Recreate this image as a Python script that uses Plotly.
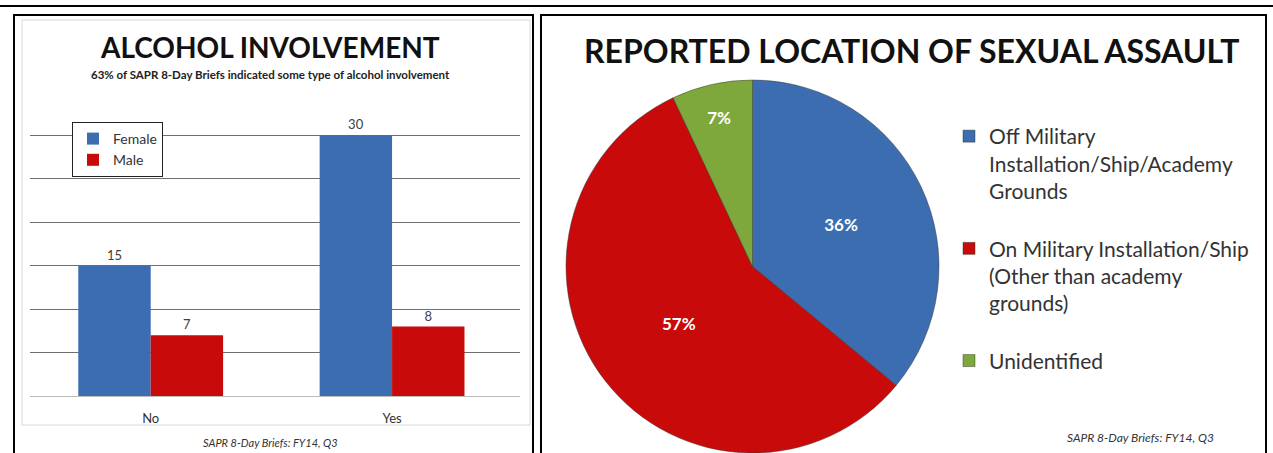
import plotly.graph_objects as go

W, H = 1273, 453

def px(x):
    return x / W

def py(y):
    return 1 - y / H

# bar chart data
answers = ["No", "Yes"]
female = [15, 30]
male = [7, 8]

# pie data
locations = [
    "Off Military<br>Installation/Ship/Academy<br>Grounds<br> ",
    "On Military Installation/Ship<br>(Other than academy<br>grounds)<br> ",
    "Unidentified",
]
location_pct = [36, 57, 7]

FONT = "Lato, 'Open Sans', sans-serif"
BLUE = "#3b6db0"
RED = "#c80a0a"
GREEN = "#7ea83c"

fig = go.Figure()

fig.add_trace(go.Bar(
    x=answers, y=female, name="Female",
    marker=dict(color=BLUE, line=dict(width=0)),
    text=female, textposition="outside",
    textfont=dict(size=13, color="#404040"),
    cliponaxis=False, legend="legend",
))
fig.add_trace(go.Bar(
    x=answers, y=male, name="Male",
    marker=dict(color=RED, line=dict(width=0)),
    text=male, textposition="outside",
    textfont=dict(size=13, color="#404040"),
    cliponaxis=False, legend="legend",
))

fig.add_trace(go.Pie(
    labels=locations, values=location_pct,
    sort=False, direction="clockwise", rotation=0,
    marker=dict(colors=[BLUE, RED, GREEN],
                line=dict(color="rgba(50,50,50,0.45)", width=1)),
    texttemplate="<b>%{value}%</b>",
    textposition="inside", insidetextorientation="horizontal",
    textfont=dict(size=17, color="white", family=FONT),
    domain=dict(x=[px(565), px(940)], y=[0, py(80)]),
    legend="legend2",
))

fig.update_layout(
    width=W, height=H,
    margin=dict(l=0, r=0, t=0, b=0),
    paper_bgcolor="white", plot_bgcolor="white",
    font=dict(family=FONT, color="#333"),
    barmode="group", bargap=0.4, bargroupgap=0,
    xaxis=dict(domain=[px(30), px(520)], range=[-0.5, 1.53],
               showline=True, linecolor="#bbbbbb", linewidth=1,
               ticks="", tickfont=dict(size=13, color="#333"),
               ticklabelstandoff=10, showgrid=False),
    yaxis=dict(domain=[py(396), py(91.5)], range=[0, 35.05], dtick=5,
               showticklabels=False, showgrid=True,
               gridcolor="#6f6f6f", gridwidth=1, zeroline=False),
    legend=dict(x=px(72), y=py(122), xanchor="left", yanchor="top",
                bgcolor="white", bordercolor="#222", borderwidth=1,
                font=dict(size=14, color="#333"), itemwidth=30,
                tracegroupgap=0),
    legend2=dict(x=px(949), y=py(116), xanchor="left", yanchor="top",
                 bgcolor="rgba(0,0,0,0)", font=dict(size=21, color="#333"),
                 itemwidth=30, valign="top"),
)

shapes = [
    # outer top line
    dict(type="line", x0=0, x1=1, y0=py(6), y1=py(6), line=dict(color="black", width=2)),
    # left panel frame
    dict(type="rect", x0=px(14), x1=px(533), y0=py(460), y1=py(15), line=dict(color="black", width=2)),
    dict(type="rect", x0=px(22), x1=px(530), y0=py(425), y1=py(20), line=dict(color="#d8d8d8", width=1)),
    # right panel frame
    dict(type="rect", x0=px(541), x1=px(1266), y0=py(460), y1=py(15), line=dict(color="black", width=2)),
]
fig.update_layout(shapes=[dict(s, xref="paper", yref="paper") for s in shapes])

annotations = [
    dict(text="<b>ALCOHOL INVOLVEMENT</b>", x=px(270), y=py(47), font=dict(size=28, color="#111")),
    dict(text="<b>63% of SAPR 8-Day Briefs indicated some type of alcohol involvement</b>",
         x=px(270), y=py(75), font=dict(size=11.5, color="#222")),
    dict(text="<i>SAPR 8-Day Briefs: FY14, Q3</i>", x=px(270), y=py(442), font=dict(size=11, color="#333")),
    dict(text="<b>REPORTED LOCATION OF SEXUAL ASSAULT</b>", x=px(912), y=py(50), font=dict(size=32, color="#111")),
    dict(text="<i>SAPR 8-Day Briefs: FY14, Q3</i>", x=px(1140), y=py(437), font=dict(size=12, color="#333")),
]
fig.update_layout(annotations=[dict(a, xref="paper", yref="paper", showarrow=False,
                                    xanchor="center", yanchor="middle") for a in annotations])

# page body has a default 8px margin; drop it so the figure sits at the corner
fig.write_html("out.html", config={"displayModeBar": False},
               post_script="document.body.style.margin='0';document.body.style.overflow='hidden';")
